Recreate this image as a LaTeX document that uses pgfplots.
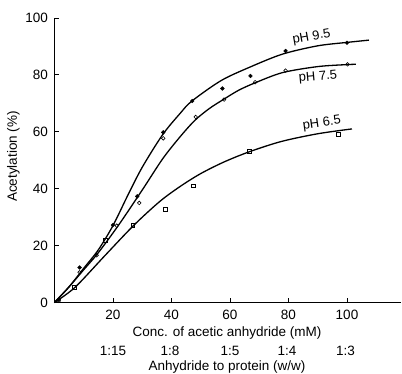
\documentclass[border=0pt]{standalone}
\usepackage{fontspec}
\setmainfont{Liberation Sans}
\usepackage{pgfplots}
\pgfplotsset{compat=1.18}
\begin{document}
\pgfplotstableread{
x y
0 0
5 5.5
10 12
15 18.5
20 27
25 37.5
30 47.5
37 59
43 66.5
47 70.8
57 78
67 82.8
78 87.3
90 90.2
100 91.4
107.5 92.2
}\curvenine
\pgfplotstableread{
x y
0 0
5 5.5
10 11.5
15 17.5
22 27.3
30 39.5
37 50.5
43 58.3
48 64
53 68.2
58 71.5
63 74.6
68.6 77.2
78 80.8
90 82.9
100 83.6
103 83.7
}\curveseven
\pgfplotstableread{
x y
0 0
7 5.3
17 16.2
27 27
36 35.5
43 40.8
50 45.3
58 49.4
66.7 53
77.6 56.6
90 59.3
101.7 61
}\curvesix
\pgfplotstableread{
x y
1.5 1
8.6 12.3
20 27.2
28.3 37.3
37.2 59.8
47.1 70.8
57.4 75.2
67 79.6
79 88.4
100 91.3
}\ptsnine
\pgfplotstableread{
x y
1.5 0.6
8.6 10.6
14.4 16.6
21.3 27
29 35
37.2 57.7
48.3 65.2
58 71.3
68.6 77.4
79 81.5
100.2 83.7
}\ptsseven
\pgfplotstableread{
x y
6.9 5.3
17.3 22
26.8 27
37.9 32.7
47.5 41
66.7 53
97.1 59
}\ptssix
\begin{tikzpicture}
\begin{axis}[
  x=2.925pt, y=2.845pt,
  xmin=0, xmax=118.5, ymin=0, ymax=100,
  axis x line=bottom, axis y line=left,
  axis line style={-, line width=0.9pt},
  tick align=inside, major tick length=5pt,
  tick style={line width=0.8pt, black},
  xtick={20,40,60,80,100}, ytick={0,20,40,60,80,100},
  /pgf/number format/assume math mode=true,
  ticklabel style={font=\fontsize{13.5}{15}\selectfont},
  xticklabel style={anchor=base, yshift=-17pt},
  yticklabel style={xshift=-3pt},
  clip=false,
]
\addplot[black, line width=1.3pt, smooth] table {\curvenine};
\addplot[black, line width=1.3pt, smooth] table {\curveseven};
\addplot[black, line width=1.3pt, smooth] table {\curvesix};
\addplot[only marks, mark=*, mark size=1.9pt, mark options={fill=black, draw=black}] table {\ptsnine};
\addplot[only marks, mark=o, mark size=1.8pt, mark options={fill=white, draw=black, line width=0.6pt}] table {\ptsseven};
\addplot[only marks, mark=square, mark size=1.9pt, mark options={fill=white, draw=black, line width=0.6pt}] table {\ptssix};
\node[font=\fontsize{13.5}{15}\selectfont, rotate=90] at (axis cs:-14,51.3) {Acetylation (\%)};
\node[font=\fontsize{13.5}{15}\selectfont, anchor=base] at (axis cs:59,-11.8) {Conc. of acetic anhydride (mM)};
\node[font=\fontsize{13.5}{15}\selectfont, anchor=base] at (axis cs:20,-18.7) {1:15};
\node[font=\fontsize{13.5}{15}\selectfont, anchor=base] at (axis cs:39.5,-18.7) {1:8};
\node[font=\fontsize{13.5}{15}\selectfont, anchor=base] at (axis cs:60,-18.7) {1:5};
\node[font=\fontsize{13.5}{15}\selectfont, anchor=base] at (axis cs:79.5,-18.7) {1:4};
\node[font=\fontsize{13.5}{15}\selectfont, anchor=base] at (axis cs:99.5,-18.7) {1:3};
\node[font=\fontsize{13.5}{15}\selectfont, anchor=base] at (axis cs:59,-23.9) {Anhydride to protein (w/w)};
\node[font=\fontsize{13}{15}\selectfont, rotate=10] at (axis cs:87.9,93.2) {pH 9.5};
\node[font=\fontsize{13}{15}\selectfont, rotate=5] at (axis cs:90.1,79.2) {pH 7.5};
\node[font=\fontsize{13}{15}\selectfont, rotate=8] at (axis cs:91.4,63.0) {pH 6.5};
\coordinate (bl) at (axis cs:-18.6,-25.1);
\coordinate (tr) at (axis cs:118.8,106.3);
\end{axis}
\pgfresetboundingbox
\useasboundingbox (bl) rectangle (tr);
\end{tikzpicture}
\end{document}
